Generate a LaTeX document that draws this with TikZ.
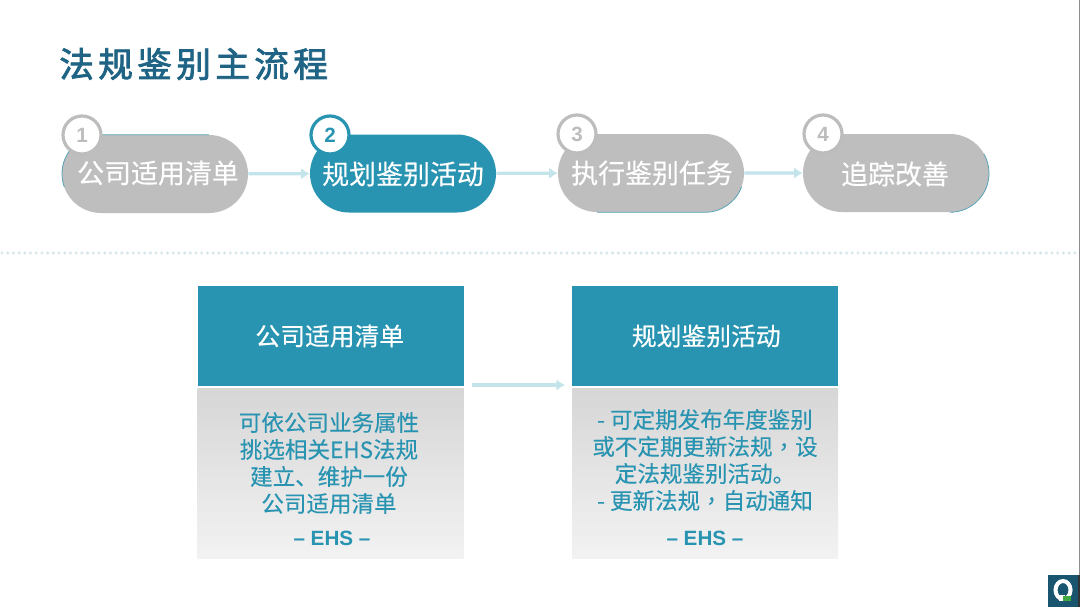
\documentclass[tikz,border=0pt]{standalone}
\usepackage{fontspec}
\usetikzlibrary{arrows.meta,shapes.misc}
\setmainfont{Liberation Sans}
\newfontfamily\cjk[FakeBold=.2]{Noto Sans CJK SC}
\newfontfamily\cjktc[FakeBold=.2]{Noto Sans CJK TC}
\newfontfamily\cjktitle[LetterSpace=12.5,FakeBold=2.2]{Noto Sans CJK SC}
\newfontfamily\cjkpill[FakeBold=.3]{Noto Sans CJK SC}
\newcommand{\tccomma}{{\cjktc ，}}
\definecolor{teal}{HTML}{2894B1}
\definecolor{titleblue}{HTML}{1F6484}
\definecolor{pillgray}{HTML}{BEBEBE}
\definecolor{linkblue}{HTML}{C3E4EA}
\definecolor{numgray}{HTML}{BDBDBD}
\definecolor{dotblue}{HTML}{D6E6EA}
\tikzset{
  pill/.style={rounded rectangle,rounded rectangle arc length=180,minimum width=139.5pt,minimum height=58.5pt,inner sep=0pt},
  graypill/.style={pill,fill=pillgray},
  activepill/.style={pill,fill=teal},
  pilltext/.style={text=white,inner sep=0pt,font=\cjkpill\fontsize{20.2}{24}\selectfont},
  rim/.style={draw=teal!70!pillgray,line width=.6pt},
  badge/.style={circle,minimum size=28.5pt,inner sep=0pt,fill=white,draw=numgray,line width=2.4pt,text=numgray,font=\bfseries\fontsize{15.5}{18}\selectfont},
  activebadge/.style={badge,draw=teal,text=teal},
  link/.style={draw=linkblue,line width=2.4pt,-{Latex[length=6.5pt,width=8.5pt]}},
  headbox/.style={rectangle,fill=teal,text=white,inner sep=0pt,minimum width=199.5pt,minimum height=74.5pt},
  headtext/.style={text=white,inner sep=0pt,font=\cjkpill\fontsize{18.6}{22}\selectfont},
  bodybox/.style={rectangle,top color=black!16,bottom color=black!5,inner sep=0pt,minimum width=199.5pt,minimum height=127.5pt},
  bodytext/.style={text=teal,align=center,inner sep=0pt,font=\cjk\fontsize{16.9}{20.25}\selectfont},
  signtext/.style={text=teal,inner sep=0pt,font=\bfseries\fontsize{15.5}{18}\selectfont}
}
\begin{document}
\begin{tikzpicture}[x=.75pt,y=-.75pt]
\useasboundingbox (0,0) rectangle (1080,607);
\fill[white] (0,0) rectangle (1080,607);
\draw[black!45,line width=.8pt] (1079.5,0) -- (1079.5,607);
\node[anchor=west,inner sep=0pt,text=titleblue,font=\cjktitle\fontsize{26}{30}\selectfont] (title) at (59,64) {法规鉴别主流程};

\node[graypill] (p1) at (155,174) {};
\node[activepill] (p2) at (403,173.5) {};
\node[graypill] (p3) at (651,173) {};
\node[graypill] (p4) at (896,173) {};
\draw[rim] (p1.north east) -- (p1.north west) arc[start angle=90,end angle=200,radius=29.25pt];
\draw[rim] (p3.south west) -- (p3.south east) arc[start angle=-90,end angle=-20,radius=29.25pt];
\draw[rim] (p4.south east) arc[start angle=-90,end angle=30,radius=29.25pt];
\node[pilltext] (t1) at (158,173) {公司适用清单};
\node[pilltext] (t2) at (403,174) {规划鉴别活动};
\node[pilltext] (t3) at (652,173) {执行鉴别任务};
\node[pilltext] (t4) at (895,174) {追踪改善};
\node[badge] (b1) at (82,135) {\raisebox{-1.5pt}{1}};
\node[activebadge] (b2) at (330,135) {\raisebox{-1.5pt}{2}};
\node[badge] (b3) at (577,134) {\raisebox{-1.5pt}{3}};
\node[badge] (b4) at (823,134) {\raisebox{-1.5pt}{4}};
\draw[link] (p1) -- (p2);
\draw[link] (p2) -- (p3);
\draw[link] (p3) -- (p4);

\draw[dotblue,line width=2.5pt,line cap=round,dash pattern=on 0pt off 4.28pt] (2,253) -- (1080,253);

\node[headbox] (h1) at (330.5,336) {};
\node[headbox] (h2) at (705,336) {};
\node[headtext] (ht1) at (329.8,336) {公司适用清单};
\node[headtext] (ht2) at (706.3,336) {规划鉴别活动};
\node[bodybox] (c1) at (330.5,473) {};
\node[bodybox] (c2) at (705,473) {};
\node[bodytext] (x1) at (329,463) {可依公司业务属性\\挑选相关EHS法规\\建立、维护一份\\公司适用清单};
\node[bodytext] (x2) at (705,460) {- 可定期发布年度鉴别\\或不定期更新法规\tccomma 设\\定法规鉴别活动。\\- 更新法规\tccomma 自动通知};
\node[signtext] (s1) at (332,538.5) {– EHS –};
\node[signtext] (s2) at (705,538.5) {– EHS –};
\coordinate (from) at (472,385);
\coordinate (to) at (565,385);
\draw[link] (from) -- (to);

\fill[titleblue!85!black] (1048,575) rectangle (1078,607);
\fill[black!80] (1078,575) rectangle (1080,607);
\draw[white,line width=3pt] (1063,590) ellipse (7.5 and 9);
\fill[white] (1059,595) rectangle (1065,601);
\fill[green!55!black!75!white] (1063,596) rectangle (1071,601);
\end{tikzpicture}
\end{document}
